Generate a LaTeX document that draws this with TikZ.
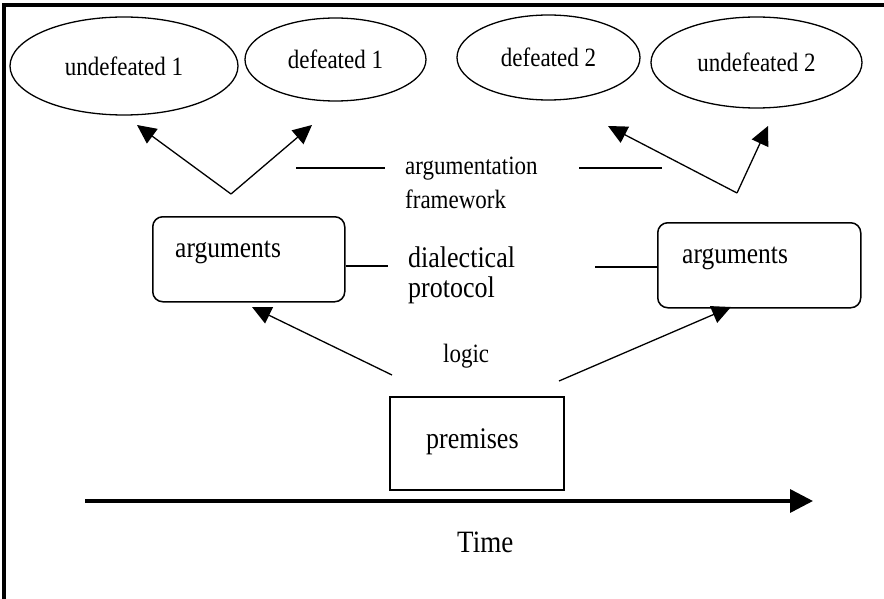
\documentclass[tikz,border=0pt]{standalone}
\usepackage{fontspec}
\setmainfont{Liberation Serif}
\usetikzlibrary{arrows.meta,shapes.geometric}
\newcommand{\stretched}[1]{\scalebox{1}[1.15]{#1}}
\tikzset{
  ell/.style={draw, ellipse, line width=1.3pt, inner sep=0pt, font=\fontsize{23}{26}\selectfont},
  argbox/.style={draw, rounded corners=10pt, line width=1.5pt, inner sep=0pt, anchor=north west},
  lbl/.style={inner sep=0pt, anchor=base west},
  conn/.style={line width=1.3pt},
  arr/.style={line width=1.3pt, -{Triangle[length=19pt,width=18pt]}},
  timearr/.style={line width=3.5pt, -{Triangle[length=23pt,width=23pt]}},
  frame/.style={line width=3.3pt},
}
\begin{document}
\begin{tikzpicture}[x=1pt,y=-1pt]
\useasboundingbox (0,0) rectangle (884,599);
% frame (only top and left edges are visible)
\draw[frame] (4,599) -- (4,5) -- (884,5);

% ellipses
\node[ell, minimum width=228pt, minimum height=98pt] (u1) at (124,66) {\stretched{undefeated 1}};
\node[ell, minimum width=181pt, minimum height=83pt] (d1) at (335.5,59.5) {\stretched{defeated 1}};
\node[ell, minimum width=183pt, minimum height=85pt] (d2) at (548.5,57.5) {\stretched{defeated 2}};
\node[ell, minimum width=211pt, minimum height=91pt] (u2) at (756.5,62.5) {\stretched{undefeated 2}};

% top arrows
\coordinate (apexL) at (231,194);
\coordinate (tipU1) at (137,125);
\coordinate (tipD1) at (312,125);
\coordinate (apexR) at (737,193);
\coordinate (tipD2) at (608,126);
\coordinate (tipU2) at (768,126);
\draw[arr] (apexL) -- (tipU1);
\draw[arr] (apexL) -- (tipD1);
\draw[arr] (apexR) -- (tipD2);
\draw[arr] (apexR) -- (tipU2);

% argumentation framework
\coordinate (af1) at (296,168);
\coordinate (af2) at (385,168);
\coordinate (af3) at (579,168);
\coordinate (af4) at (662,168);
\draw[conn] (af1) -- (af2);
\draw[conn] (af3) -- (af4);
\node[lbl, font=\fontsize{23}{26}\selectfont] (argfw1) at (405,175) {\stretched{argumentation}};
\node[lbl, font=\fontsize{23}{26}\selectfont] (argfw2) at (405,208) {\stretched{framework}};

% argument boxes
\node[argbox, minimum width=192pt, minimum height=85pt] (argL) at (152,216) {};
\node[argbox, minimum width=203pt, minimum height=85pt] (argR) at (657,222) {};
\node[lbl, font=\fontsize{25.5}{28}\selectfont] (argLt) at (175,257) {\stretched{arguments}};
\node[lbl, font=\fontsize{25.5}{28}\selectfont] (argRt) at (682,263) {\stretched{arguments}};

% dialectical protocol
\node[lbl, font=\fontsize{26}{29}\selectfont] (dp1) at (408,267) {\stretched{dialectical}};
\node[lbl, font=\fontsize{26}{29}\selectfont] (dp2) at (408,297) {\stretched{protocol}};
\coordinate (lp) at (388,266);
\coordinate (rp) at (595,267);
\draw[conn] (argL.east |- lp) -- (lp);
\draw[conn] (rp) -- (rp -| argR.west);

% logic
\node[lbl, font=\fontsize{23}{26}\selectfont] (logic) at (443,362) {\stretched{logic}};
\coordinate (lgL) at (392,375);
\coordinate (lgR) at (559,381);
\coordinate (tipAL) at (252,307);
\coordinate (tipAR) at (731,307);
\draw[arr] (lgL) -- (tipAL);
\draw[arr] (lgR) -- (tipAR);

% premises
\node[draw, line width=1.5pt, inner sep=0pt, anchor=north west,
      minimum width=174pt, minimum height=93pt] (prem) at (389,396) {};
\node[lbl, font=\fontsize{26}{29}\selectfont] (premt) at (426,448) {\stretched{premises}};

% time
\coordinate (t0) at (85,501);
\coordinate (t1) at (813,501);
\draw[timearr] (t0) -- (t1);
\node[lbl, font=\fontsize{27}{30}\selectfont] (time) at (457,552) {\stretched{Time}};
\end{tikzpicture}
\end{document}
